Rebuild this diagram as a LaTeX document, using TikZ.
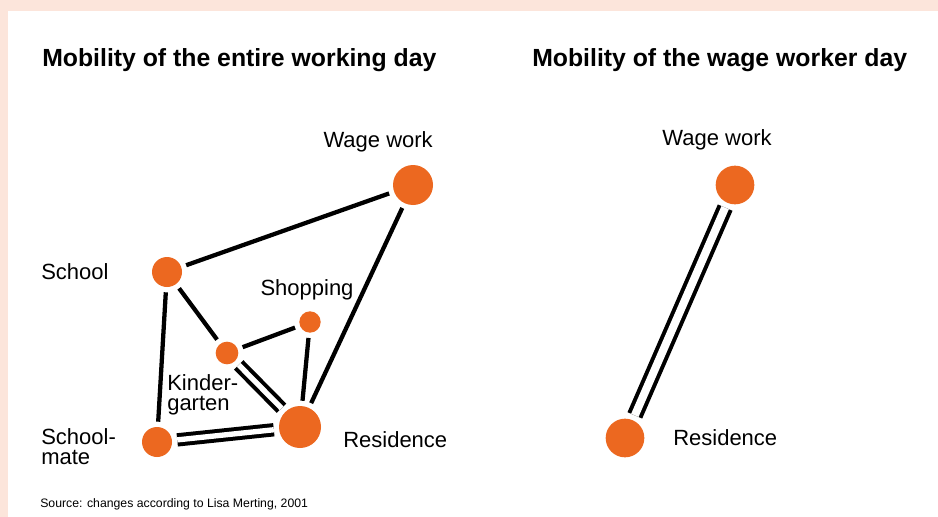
\documentclass[tikz,border=0pt]{standalone}
\usepackage{fontspec}
\setmainfont{Liberation Sans}
\definecolor{paper}{RGB}{252,229,219}
\definecolor{dot}{RGB}{236,104,32}
\tikzset{
  spot/.style={circle,fill=dot,inner sep=0pt,outer sep=4pt},
  link/.style={line width=3.2pt},
  twin/.style={line width=3pt,double=white,double distance=4pt},
  lbl/.style={font=\fontsize{16.5}{15}\selectfont,inner sep=0pt},
  head/.style={font=\bfseries\fontsize{18.6}{20}\selectfont,inner sep=0pt}
}

\begin{document}
\begin{tikzpicture}[x=0.75pt,y=-0.75pt]
    \useasboundingbox (0,0) rectangle (938,517);
    \fill[paper] (0,0) rectangle (938,517);
    \fill[white] (8,11) rectangle (938,517);
    % entire working day
    \node[head,anchor=west] (head1) at (42,60) {Mobility of the entire working day};
    \node[spot,minimum size=30pt] (work) at (413,185) {};
    \node[spot,minimum size=22.5pt] (school) at (167,272) {};
    \node[spot,minimum size=16pt] (shop) at (310,322) {};
    \node[spot,minimum size=17pt] (kinder) at (227,353) {};
    \node[spot,minimum size=22.5pt] (mate) at (157,442) {};
    \node[spot,minimum size=31.5pt] (home) at (300,427) {};
    \node[lbl,anchor=east] (worklbl) at (433,142) {Wage work};
    \node[lbl,anchor=west] (schoollbl) at (41,272) {School};
    \node[lbl] (shoplbl) at (307,290) {Shopping};
    \node[lbl,anchor=west,align=left] (kinderlbl) at (167,395) {Kinder-\\garten};
    \node[lbl,anchor=west,align=left] (matelbl) at (41,447) {School-\\mate};
    \node[lbl,anchor=west] (homelbl) at (343,440) {Residence};
    \draw[link] (school) -- (work);
    \draw[link] (work) -- (home);
    \draw[link] (school) -- (mate);
    \draw[link] (school) -- (kinder);
    \draw[link] (kinder) -- (shop);
    \draw[link] (shop) -- (home);
    \draw[twin] (kinder) -- (home);
    \draw[twin] (mate) -- (home);
    \node[anchor=west,inner sep=0pt,font=\fontsize{9.2}{10}\selectfont] (source) at (40,504) {Source: changes according to Lisa Merting, 2001};
    % wage worker day
    \node[head,anchor=west] (head2) at (532,60) {Mobility of the wage worker day};
    \node[spot,minimum size=29pt] (work2) at (735,185) {};
    \node[spot,minimum size=29pt] (home2) at (625,438) {};
    \node[lbl] (work2lbl) at (717,140) {Wage work};
    \node[lbl,anchor=west] (home2lbl) at (673,438) {Residence};
    \draw[twin,double distance=6pt] (work2) -- (home2);
\end{tikzpicture}
\end{document}
